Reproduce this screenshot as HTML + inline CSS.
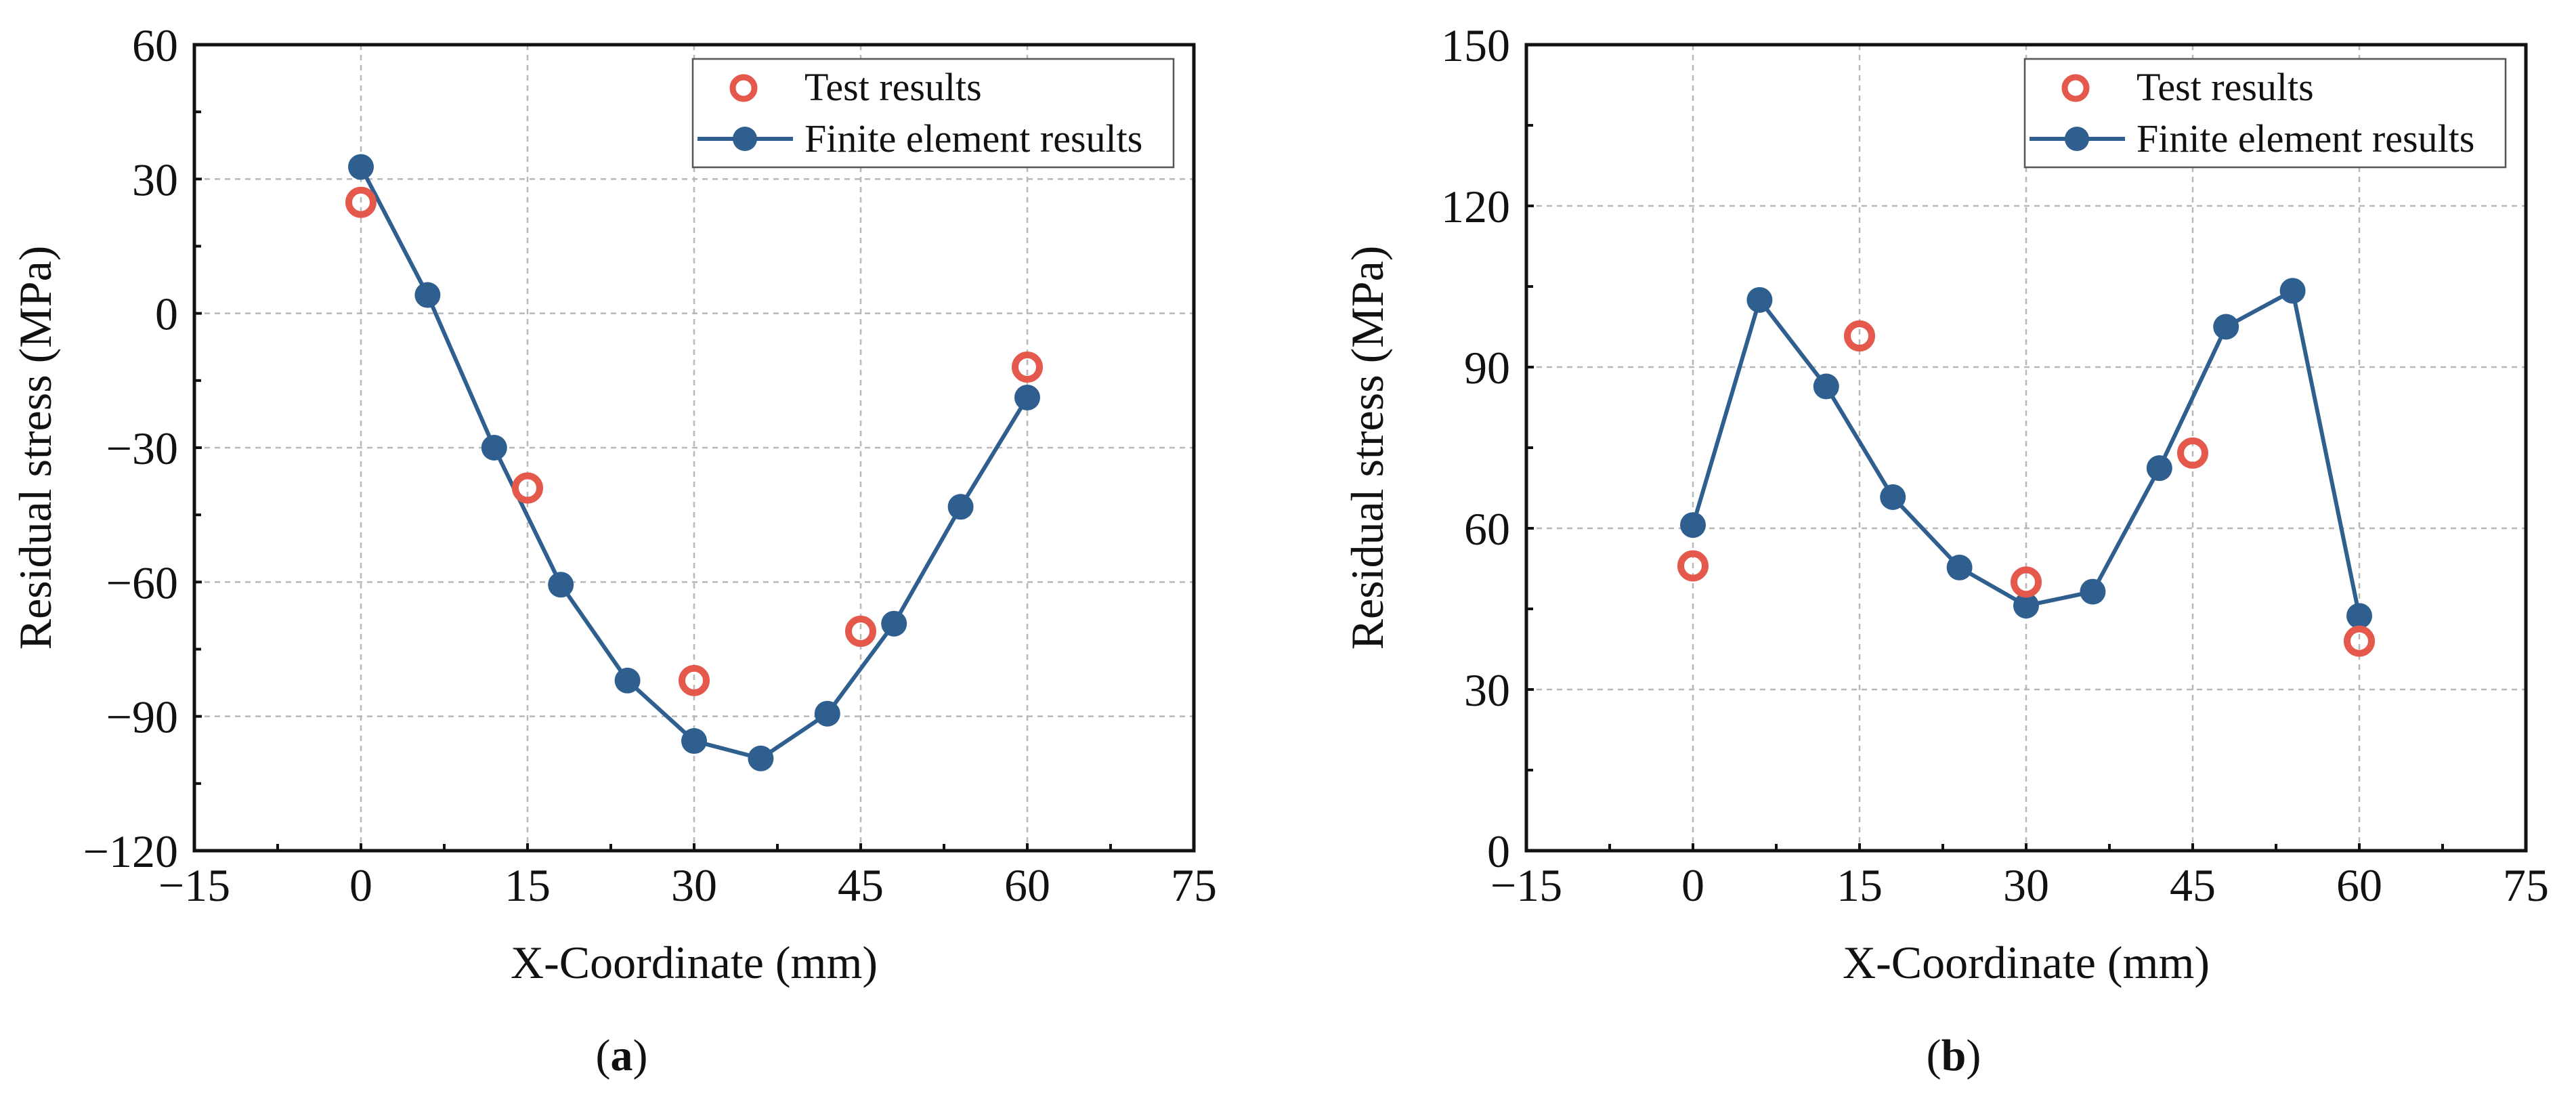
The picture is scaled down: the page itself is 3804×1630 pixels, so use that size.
<!DOCTYPE html>
<html><head><meta charset="utf-8"><style>
html,body{margin:0;padding:0;background:#fff;}
svg{display:block;font-family:"Liberation Serif","Times New Roman",serif;}
</style></head><body>
<svg id="chart" width="3804" height="1630" viewBox="0 0 3804 1630" xmlns="http://www.w3.org/2000/svg"></svg>
<script>
const xTicks = [-15, 0, 15, 30, 45, 60, 75];
const feX = [0, 6, 12, 18, 24, 30, 36, 42, 48, 54, 60];
const testX = [0, 15, 30, 45, 60];
const aYTicks = [-120, -90, -60, -30, 0, 30, 60];
const aFE = [32.7, 4.1, -30, -60.6, -82, -95.5, -99.4, -89.4, -69.3, -43.2, -18.8];
const aTest = [24.8, -39, -82, -71, -12];
const bYTicks = [0, 30, 60, 90, 120, 150];
const bFE = [60.6, 102.5, 86.4, 65.8, 52.7, 45.6, 48.2, 71.2, 97.5, 104.2, 43.7];
const bTest = [53, 95.8, 50, 74, 39];

const NS = "http://www.w3.org/2000/svg";
const svg = document.getElementById('chart');
function mk(tag, attrs, parent, text) {
  const e = document.createElementNS(NS, tag);
  for (const k in attrs) e.setAttribute(k, attrs[k]);
  if (text !== undefined) e.textContent = text;
  (parent || svg).appendChild(e);
  return e;
}
const BLUE = "#2f5f8f", RED = "#e5584c";

function panel(id, L, yMin, yMax, yTicks, fe, test, label) {
  const T = 66, B = 1256, W = 1476, R = L + W;
  const sx = v => L + (v - (-15)) / 90 * W;
  const sy = v => B - (v - yMin) / (yMax - yMin) * (B - T);
  const g = mk('g', {});
  
  
  xTicks.forEach(t => {
    if (t === -15 || t === 75) return;
    const l = mk('line', {x1: sx(t), x2: sx(t), y1: T, y2: B, stroke: '#b8b8b8', 'stroke-width': 2.5, 'stroke-dasharray': '8 7'}, g);
    
    
  });
  yTicks.forEach(t => {
    if (t === yMin || t === yMax) return;
    const l = mk('line', {x1: L, x2: R, y1: sy(t), y2: sy(t), stroke: '#b8b8b8', 'stroke-width': 2.5, 'stroke-dasharray': '8 7'}, g);
    
    
  });
  const step = yTicks[1] - yTicks[0];
  for (let i = 0; i < yTicks.length; i++) {
    const t = yTicks[i];
    const tk = mk('line', {x1: L, x2: L + 11, y1: sy(t), y2: sy(t), stroke: '#111', 'stroke-width': 4}, g);
    
    
    if (i < yTicks.length - 1) {
      const m = mk('line', {x1: L, x2: L + 10, y1: sy(t + step / 2), y2: sy(t + step / 2), stroke: '#111', 'stroke-width': 4}, g);
      
      
    }
    const tl = mk('text', {x: L - 24, y: sy(t) + 24, 'text-anchor': 'end', 'font-size': 68, fill: '#111'}, g, t < 0 ? '\u2212' + Math.abs(t) : String(t));
    
    
  }
  for (let i = 0; i < xTicks.length; i++) {
    const t = xTicks[i];
    const tk = mk('line', {x1: sx(t), x2: sx(t), y1: B, y2: B - 11, stroke: '#111', 'stroke-width': 4}, g);
    
    
    if (i < xTicks.length - 1) {
      const m = mk('line', {x1: sx(t + 7.5), x2: sx(t + 7.5), y1: B, y2: B - 10, stroke: '#111', 'stroke-width': 4}, g);
      
      
    }
    const tl = mk('text', {x: sx(t), y: B + 74, 'text-anchor': 'middle', 'font-size': 68, fill: '#111'}, g, t < 0 ? '\u2212' + Math.abs(t) : String(t));
    
    
  }
  const fr = mk('rect', {x: L, y: T, width: W, height: B - T, fill: 'none', stroke: '#111', 'stroke-width': 5}, g);
  
  
  const pts = feX.map((x, i) => sx(x) + ',' + sy(fe[i])).join(' ');
  const pl = mk('polyline', {points: pts, fill: 'none', stroke: BLUE, 'stroke-width': 6}, g);
  
  
  feX.forEach((x, i) => {
    const c = mk('circle', {cx: sx(x), cy: sy(fe[i]), r: 19, fill: BLUE}, g);
    
    
  });
  testX.forEach((x, i) => {
    const c = mk('circle', {cx: sx(x), cy: sy(test[i]), r: 18, fill: 'none', stroke: RED, 'stroke-width': 10}, g);
    
    
  });
  const lx = L + 736;
  const lg = mk('g', {}, g);
  
  
  mk('rect', {x: lx, y: 87, width: 710, height: 160, fill: '#fff', stroke: '#555', 'stroke-width': 2.5}, lg);
  const lc = mk('circle', {cx: lx + 75, cy: 130, r: 16, fill: 'none', stroke: RED, 'stroke-width': 9}, lg);
  
  
  const t1 = mk('text', {x: lx + 165, y: 148, 'font-size': 58, fill: '#111'}, lg, 'Test results');
  
  
  mk('line', {x1: lx + 7, x2: lx + 148, y1: 205, y2: 205, stroke: BLUE, 'stroke-width': 6}, lg);
  const lf = mk('circle', {cx: lx + 77, cy: 205, r: 18, fill: BLUE}, lg);
  
  
  const t2 = mk('text', {x: lx + 165, y: 224, 'font-size': 58, fill: '#111'}, lg, 'Finite element results');
  
  
  const xt = mk('text', {x: L + W / 2, y: 1444, 'text-anchor': 'middle', 'font-size': 68, fill: '#111'}, g, 'X-Coordinate (mm)');
  
  
  const yx = L - 212, yy = (T + B) / 2;
  const yt = mk('text', {x: yx, y: yy, 'text-anchor': 'middle', 'font-size': 68, fill: '#111', transform: 'rotate(-90 ' + yx + ' ' + yy + ')'}, g, 'Residual stress (MPa)');
  
  
  const pt = mk('text', {x: L + W / 2 - 107, y: 1580, 'text-anchor': 'middle', 'font-size': 66, fill: '#111'}, g);
  
  
  mk('tspan', {}, pt, '(');
  mk('tspan', {'font-weight': 'bold'}, pt, label);
  mk('tspan', {}, pt, ')');
}
panel('a', 287, -120, 60, aYTicks, aFE, aTest, 'a');
panel('b', 2254, 0, 150, bYTicks, bFE, bTest, 'b');
</script>
</body></html>
